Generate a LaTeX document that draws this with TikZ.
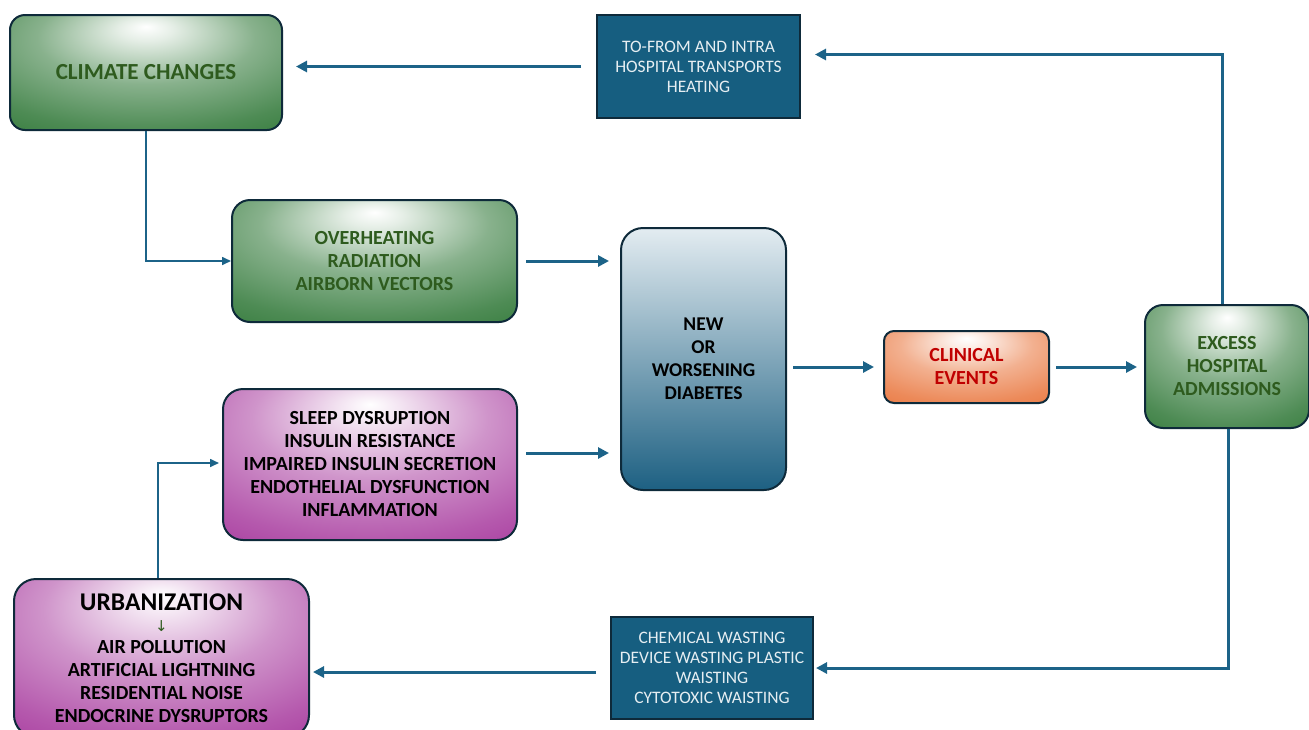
\documentclass[tikz,border=0pt]{standalone}
\usepackage{fontspec}
\setmainfont{Carlito}
\newfontfamily\symfont{DejaVu Sans}
\usetikzlibrary{arrows.meta}
\definecolor{GG}{HTML}{27722F}
\definecolor{MM}{HTML}{A02A96}
\definecolor{OO}{HTML}{E87035}
\definecolor{BB}{HTML}{1D6082}
\definecolor{BL}{HTML}{E3ECF1}
\definecolor{boxblue}{HTML}{165E80}
\definecolor{edge}{HTML}{0E2A3A}
\definecolor{arr}{HTML}{1C6388}
\definecolor{gtext}{HTML}{2E5B1E}
\definecolor{rtext}{HTML}{C00000}
\definecolor{wtext}{HTML}{E6EEF2}
\pgfdeclareradialshading{greenglow}{\pgfpoint{0bp}{20bp}}{color(0bp)=(white); color(5bp)=(GG!12!white); color(20bp)=(GG!55!white); color(36bp)=(GG!82!white); color(52bp)=(GG); color(80bp)=(GG)}
\pgfdeclareradialshading{magglow}{\pgfpoint{0bp}{20bp}}{color(0bp)=(white); color(5bp)=(MM!12!white); color(20bp)=(MM!50!white); color(36bp)=(MM!78!white); color(52bp)=(MM); color(80bp)=(MM)}
\pgfdeclareradialshading{orgglow}{\pgfpoint{0bp}{20bp}}{color(0bp)=(white); color(5bp)=(OO!12!white); color(20bp)=(OO!55!white); color(36bp)=(OO!82!white); color(52bp)=(OO); color(80bp)=(OO)}
\tikzset{
  box/.style={draw=edge, line width=2pt, align=center, inner sep=0pt},
  greenbox/.style={box, shading=greenglow, text=gtext, font=\bfseries\fontsize{20}{23}\selectfont},
  magbox/.style={box, shading=magglow, text=black, font=\bfseries\fontsize{20}{23}\selectfont},
  orgbox/.style={box, shading=orgglow, text=rtext, rounded corners=10pt, font=\bfseries\fontsize{20}{23}\selectfont},
  bluebox/.style={box, top color=BL, bottom color=BB, text=black, font=\bfseries\fontsize{19.5}{23}\selectfont},
  darkbox/.style={draw=edge, line width=2pt, fill=boxblue, text=wtext, align=center, font=\fontsize{17.5}{20}\selectfont},
  thick arrow/.style={draw=arr, line width=3pt, -{Triangle[length=11pt,width=11pt]}},
  thin arrow/.style={draw=arr, line width=1.6pt, -{Triangle[length=9pt,width=8pt]}}
}
\begin{document}
\begin{tikzpicture}[x=1pt,y=-1pt]
\useasboundingbox (0,0) rectangle (1309,729);
% boxes
\node[greenbox, rounded corners=15pt, minimum width=272pt, minimum height=115pt, font=\bfseries\fontsize{23}{26}\selectfont] (climate) at (146,72.5) {CLIMATE CHANGES};
\node[darkbox, minimum width=203pt, minimum height=103pt] (trans) at (698.5,66.5) {TO-FROM AND INTRA\\HOSPITAL TRANSPORTS\\HEATING};
\node[greenbox, rounded corners=18pt, minimum width=285pt, minimum height=122pt] (over) at (374.5,261) {OVERHEATING\\RADIATION\\AIRBORN VECTORS};
\node[magbox, rounded corners=20pt, minimum width=294pt, minimum height=151pt] (sleep) at (370,464.5) {SLEEP DYSRUPTION\\INSULIN RESISTANCE\\IMPAIRED INSULIN SECRETION\\ENDOTHELIAL DYSFUNCTION\\INFLAMMATION};
\node[magbox, rounded corners=22pt, minimum width=295pt, minimum height=158pt] (urban) at (161.5,658) {{\fontsize{25.5}{27}\selectfont URBANIZATION}\\[-2pt]{\symfont\mdseries\fontsize{15}{22}\selectfont\color{gtext}↓}\\[-1pt]AIR POLLUTION\\ARTIFICIAL LIGHTNING\\RESIDENTIAL NOISE\\ENDOCRINE DYSRUPTORS};
\node[bluebox, rounded corners=22pt, minimum width=165pt, minimum height=262pt] (diab) at (703.5,359) {NEW\\OR\\WORSENING\\DIABETES};
\node[orgbox, minimum width=165pt, minimum height=72pt] (clin) at (966.5,367) {CLINICAL\\EVENTS};
\node[greenbox, rounded corners=18pt, minimum width=164pt, minimum height=123pt] (excess) at (1227,366.5) {EXCESS\\HOSPITAL\\ADMISSIONS};
\node[darkbox, minimum width=202pt, minimum height=102pt] (waste) at (712,668) {CHEMICAL WASTING\\DEVICE WASTING PLASTIC\\WAISTING\\CYTOTOXIC WAISTING};
% connectors
\draw[thick arrow] ([xshift=-15pt]trans.west) -- ([xshift=13pt]trans.west -| climate.east);
\draw[thick arrow] ([xshift=-5pt]excess.north) |- ([xshift=14pt,yshift=12pt]trans.east);
\draw[thin arrow] (climate.south) |- (over.west);
\draw[thick arrow] ([xshift=8pt]over.east) -- ([xshift=-11pt]over.east -| diab.west);
\draw[thick arrow] ([xshift=8pt, yshift=11.5pt]sleep.east) -- ([xshift=-11pt,yshift=11.5pt]sleep.east -| diab.west);
\draw[thin arrow] ([xshift=-3.5pt]urban.north) |- ([xshift=-3pt,yshift=1.5pt]sleep.west);
\draw[thick arrow] ([xshift=6pt,yshift=-8pt]diab.east) -- ([xshift=-9pt,yshift=-8pt]diab.east -| clin.west);
\draw[thick arrow] ([xshift=6pt]clin.east) -- ([xshift=-7pt]clin.east -| excess.west);
\draw[thick arrow] ([xshift=1pt]excess.south) |- ([xshift=2pt]waste.east);
\draw[thick arrow] ([xshift=-14pt,yshift=-4pt]waste.west) -- ([xshift=3pt,yshift=-4pt]waste.west -| urban.east);
\end{tikzpicture}
\end{document}
